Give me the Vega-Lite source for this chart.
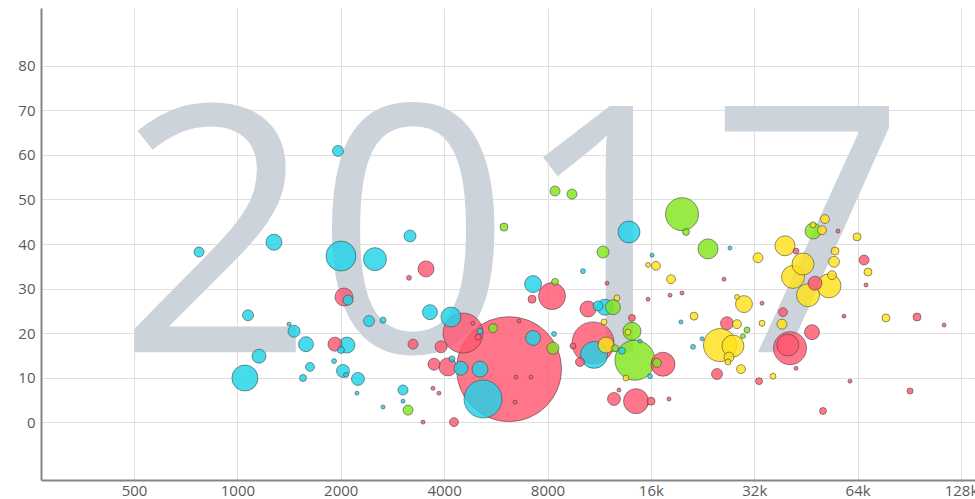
{
  "$schema": "https://vega.github.io/schema/vega-lite/v6.json",
  "width": 934,
  "height": 472,
  "autosize": "none",
  "padding": {"left": 41, "top": 8, "right": 0, "bottom": 19},
  "background": "white",
  "config": {
    "view": {"stroke": null},
    "axis": {
      "domainColor": "#858585",
      "domainWidth": 2,
      "gridColor": "#e0e0e0",
      "gridWidth": 1,
      "ticks": false,
      "labelFont": "Open Sans",
      "labelFontSize": 15,
      "labelColor": "#5a5a5a",
      "title": null
    }
  },
  "datasets": {
    "bubbles": [
      {"c":"africa","x":773,"y":38.2,"pop":12.5},
      {"c":"africa","x":1278,"y":40.4,"pop":32},
      {"c":"africa","x":1074,"y":24.0,"pop":15},
      {"c":"africa","x":1414,"y":22.0,"pop":2},
      {"c":"africa","x":1462,"y":20.4,"pop":18},
      {"c":"africa","x":1584,"y":17.5,"pop":28},
      {"c":"africa","x":1156,"y":14.8,"pop":24.5},
      {"c":"africa","x":1052,"y":9.9,"pop":84.5},
      {"c":"africa","x":1627,"y":12.4,"pop":10},
      {"c":"africa","x":1553,"y":9.9,"pop":6},
      {"c":"africa","x":1963,"y":60.9,"pop":15},
      {"c":"africa","x":2003,"y":37.3,"pop":112.5},
      {"c":"africa","x":2516,"y":36.6,"pop":66},
      {"c":"africa","x":3182,"y":41.8,"pop":18},
      {"c":"africa","x":2100,"y":27.4,"pop":12.5},
      {"c":"africa","x":2417,"y":22.7,"pop":15},
      {"c":"africa","x":2655,"y":22.9,"pop":4.5},
      {"c":"africa","x":3638,"y":24.7,"pop":28},
      {"c":"africa","x":4188,"y":23.6,"pop":50},
      {"c":"africa","x":2085,"y":17.3,"pop":32},
      {"c":"africa","x":2003,"y":16.2,"pop":6},
      {"c":"africa","x":1912,"y":13.7,"pop":3},
      {"c":"africa","x":2030,"y":11.5,"pop":21},
      {"c":"africa","x":2072,"y":10.6,"pop":3},
      {"c":"africa","x":2245,"y":9.7,"pop":21},
      {"c":"africa","x":3036,"y":7.2,"pop":12.5},
      {"c":"africa","x":3036,"y":4.7,"pop":2},
      {"c":"africa","x":4479,"y":12.1,"pop":24.5},
      {"c":"africa","x":5087,"y":11.9,"pop":32},
      {"c":"africa","x":4217,"y":14.2,"pop":4.5},
      {"c":"africa","x":5087,"y":20.4,"pop":4.5},
      {"c":"africa","x":5192,"y":5.2,"pop":180},
      {"c":"africa","x":7261,"y":18.9,"pop":28},
      {"c":"africa","x":8357,"y":19.8,"pop":3},
      {"c":"africa","x":7261,"y":31.0,"pop":36},
      {"c":"africa","x":10150,"y":33.9,"pop":3},
      {"c":"africa","x":13815,"y":42.7,"pop":60.5},
      {"c":"africa","x":11227,"y":26.1,"pop":12.5},
      {"c":"africa","x":11765,"y":25.8,"pop":32},
      {"c":"africa","x":10928,"y":15.1,"pop":91},
      {"c":"africa","x":13185,"y":16.0,"pop":6},
      {"c":"africa","x":15910,"y":10.3,"pop":3},
      {"c":"africa","x":21225,"y":16.9,"pop":3},
      {"c":"africa","x":22548,"y":18.7,"pop":2},
      {"c":"asia","x":3543,"y":34.4,"pop":32},
      {"c":"asia","x":3160,"y":32.4,"pop":3},
      {"c":"asia","x":2044,"y":28.1,"pop":40.5},
      {"c":"asia","x":4540,"y":20.0,"pop":200},
      {"c":"asia","x":1924,"y":17.5,"pop":24.5},
      {"c":"asia","x":3247,"y":17.5,"pop":12.5},
      {"c":"asia","x":3917,"y":16.9,"pop":18},
      {"c":"asia","x":3738,"y":13.0,"pop":18},
      {"c":"asia","x":4104,"y":12.4,"pop":40.5},
      {"c":"asia","x":5021,"y":19.1,"pop":4.5},
      {"c":"asia","x":6182,"y":11.9,"pop":1378},
      {"c":"asia","x":4274,"y":0.0,"pop":10},
      {"c":"asia","x":8247,"y":28.3,"pop":91},
      {"c":"asia","x":7211,"y":27.6,"pop":8},
      {"c":"asia","x":10496,"y":25.4,"pop":32},
      {"c":"asia","x":14096,"y":23.4,"pop":6},
      {"c":"asia","x":10855,"y":17.8,"pop":220},
      {"c":"asia","x":9946,"y":13.5,"pop":10},
      {"c":"asia","x":9493,"y":17.1,"pop":4.5},
      {"c":"asia","x":17355,"y":13.0,"pop":72},
      {"c":"asia","x":12493,"y":5.2,"pop":21},
      {"c":"asia","x":14484,"y":4.7,"pop":78},
      {"c":"asia","x":16015,"y":4.7,"pop":8},
      {"c":"asia","x":24931,"y":10.8,"pop":15},
      {"c":"asia","x":42340,"y":38.4,"pop":4.5},
      {"c":"asia","x":66810,"y":36.4,"pop":12.5},
      {"c":"asia","x":48100,"y":31.2,"pop":24.5},
      {"c":"asia","x":38800,"y":24.7,"pop":10},
      {"c":"asia","x":95300,"y":23.6,"pop":8},
      {"c":"asia","x":26650,"y":22.2,"pop":21},
      {"c":"asia","x":47140,"y":20.2,"pop":28},
      {"c":"asia","x":40670,"y":16.6,"pop":136},
      {"c":"asia","x":40100,"y":17.3,"pop":60.5},
      {"c":"asia","x":33040,"y":9.2,"pop":6},
      {"c":"asia","x":50740,"y":2.5,"pop":6},
      {"c":"asia","x":90950,"y":7.0,"pop":4.5},
      {"c":"europe","x":12747,"y":27.9,"pop":4.5},
      {"c":"europe","x":11687,"y":22.5,"pop":4.5},
      {"c":"europe","x":11845,"y":17.3,"pop":32},
      {"c":"europe","x":13727,"y":20.2,"pop":4.5},
      {"c":"europe","x":13540,"y":9.9,"pop":4.5},
      {"c":"europe","x":15696,"y":35.3,"pop":3},
      {"c":"europe","x":16560,"y":35.1,"pop":10},
      {"c":"europe","x":18315,"y":32.1,"pop":10},
      {"c":"europe","x":21365,"y":23.8,"pop":8},
      {"c":"europe","x":32810,"y":36.9,"pop":12.5},
      {"c":"europe","x":39330,"y":39.6,"pop":50},
      {"c":"europe","x":47450,"y":44.3,"pop":4.5},
      {"c":"europe","x":50400,"y":43.1,"pop":10},
      {"c":"europe","x":51420,"y":45.6,"pop":10},
      {"c":"europe","x":63740,"y":41.6,"pop":8},
      {"c":"europe","x":44370,"y":35.5,"pop":60.5},
      {"c":"europe","x":41500,"y":32.6,"pop":66},
      {"c":"europe","x":55000,"y":38.4,"pop":8},
      {"c":"europe","x":54640,"y":36.0,"pop":15},
      {"c":"europe","x":68600,"y":33.7,"pop":8},
      {"c":"europe","x":52820,"y":30.6,"pop":72},
      {"c":"europe","x":53900,"y":33.0,"pop":10},
      {"c":"europe","x":45890,"y":28.5,"pop":66},
      {"c":"europe","x":29870,"y":26.5,"pop":36},
      {"c":"europe","x":28500,"y":28.1,"pop":3},
      {"c":"europe","x":33710,"y":22.2,"pop":4.5},
      {"c":"europe","x":38540,"y":22.0,"pop":12.5},
      {"c":"europe","x":77400,"y":23.4,"pop":8},
      {"c":"europe","x":28500,"y":22.0,"pop":10},
      {"c":"europe","x":25430,"y":17.3,"pop":136},
      {"c":"europe","x":27740,"y":17.1,"pop":60.5},
      {"c":"europe","x":27010,"y":14.6,"pop":12.5},
      {"c":"europe","x":26830,"y":13.5,"pop":4.5},
      {"c":"europe","x":29280,"y":11.9,"pop":10},
      {"c":"europe","x":36280,"y":10.3,"pop":4.5},
      {"c":"americas","x":5976,"y":43.8,"pop":8},
      {"c":"americas","x":8414,"y":51.9,"pop":12.5},
      {"c":"americas","x":9428,"y":51.2,"pop":12.5},
      {"c":"americas","x":11610,"y":38.2,"pop":18},
      {"c":"americas","x":8414,"y":31.5,"pop":6},
      {"c":"americas","x":5552,"y":21.1,"pop":10},
      {"c":"americas","x":8300,"y":16.6,"pop":18},
      {"c":"americas","x":3140,"y":2.7,"pop":12.5},
      {"c":"americas","x":12410,"y":25.8,"pop":28},
      {"c":"americas","x":14096,"y":20.4,"pop":40.5},
      {"c":"americas","x":14380,"y":13.9,"pop":200},
      {"c":"americas","x":16670,"y":13.3,"pop":10},
      {"c":"americas","x":12580,"y":16.6,"pop":6},
      {"c":"americas","x":19715,"y":46.7,"pop":136},
      {"c":"americas","x":20250,"y":42.7,"pop":6},
      {"c":"americas","x":23470,"y":38.9,"pop":50},
      {"c":"americas","x":47450,"y":42.9,"pop":32},
      {"c":"americas","x":30480,"y":20.7,"pop":4.5},
      {"c":"americas","x":29670,"y":19.3,"pop":3},
      {"c":"asia","x":6607,"y":22.7,"pop":2},
      {"c":"asia","x":6476,"y":10.1,"pop":2},
      {"c":"asia","x":7162,"y":10.1,"pop":2},
      {"c":"asia","x":6435,"y":4.5,"pop":2},
      {"c":"asia","x":4854,"y":22.2,"pop":2},
      {"c":"africa","x":2655,"y":3.4,"pop":2},
      {"c":"africa","x":2230,"y":6.5,"pop":2},
      {"c":"asia","x":3712,"y":7.6,"pop":2},
      {"c":"asia","x":3864,"y":6.5,"pop":2},
      {"c":"asia","x":3472,"y":0.0,"pop":2},
      {"c":"asia","x":11925,"y":31.2,"pop":2},
      {"c":"asia","x":12920,"y":7.2,"pop":2},
      {"c":"asia","x":18065,"y":5.2,"pop":2},
      {"c":"africa","x":16125,"y":37.5,"pop":2},
      {"c":"asia","x":15696,"y":27.6,"pop":2},
      {"c":"asia","x":18190,"y":28.5,"pop":2},
      {"c":"asia","x":19715,"y":29.0,"pop":2},
      {"c":"africa","x":19575,"y":22.5,"pop":2},
      {"c":"africa","x":27190,"y":39.1,"pop":2},
      {"c":"asia","x":26120,"y":32.1,"pop":2},
      {"c":"asia","x":33710,"y":26.7,"pop":2},
      {"c":"asia","x":56100,"y":42.9,"pop":2},
      {"c":"asia","x":67700,"y":30.8,"pop":2},
      {"c":"asia","x":58400,"y":23.8,"pop":2},
      {"c":"asia","x":114250,"y":21.8,"pop":2},
      {"c":"asia","x":42340,"y":12.1,"pop":2},
      {"c":"asia","x":60800,"y":9.2,"pop":2},
      {"c":"africa","x":14870,"y":18.2,"pop":2}
    ],
    "year": [{"label": "2017", "x": 6300, "y": 15.7}]
  },
  "encoding": {
    "x": {
      "field": "x",
      "type": "quantitative",
      "scale": {"type": "log", "base": 2, "domain": [268, 140600], "nice": false},
      "axis": {
        "values": [500, 1000, 2000, 4000, 8000, 16000, 32000, 64000, 128000],
        "labelExpr": "datum.value >= 16000 ? format(datum.value / 1000, 'd') + 'k' : format(datum.value, 'd')",
        "labelPadding": 3,
        "labelFlush": false,
        "labelOverlap": false
      }
    },
    "y": {
      "field": "y",
      "type": "quantitative",
      "scale": {"domain": [-13, 93], "nice": false, "zero": false},
      "axis": {
        "values": [0, 10, 20, 30, 40, 50, 60, 70, 80],
        "labelPadding": 6
      }
    }
  },
  "layer": [
    {
      "data": {"name": "year"},
      "mark": {
        "type": "text",
        "font": "Open Sans",
        "fontSize": 345,
        "fontWeight": 400,
        "color": "#ccd3da",
        "align": "center",
        "baseline": "alphabetic"
      },
      "encoding": {"text": {"field": "label"}}
    },
    {
      "data": {"name": "bubbles"},
      "mark": {
        "type": "circle",
        "fillOpacity": 0.82,
        "stroke": "#3a3a3a",
        "strokeOpacity": 0.55,
        "strokeWidth": 1
      },
      "encoding": {
        "color": {
          "field": "c",
          "type": "nominal",
          "scale": {
            "domain": ["africa", "asia", "europe", "americas"],
            "range": ["#1fd3e8", "#ff5872", "#ffe11a", "#82e51c"]
          },
          "legend": null
        },
        "size": {
          "field": "pop",
          "type": "quantitative",
          "scale": {"type": "linear", "domain": [0, 1000], "range": [0, 8000], "zero": true},
          "legend": null
        },
        "order": {"field": "pop", "type": "quantitative", "sort": "descending"}
      }
    }
  ]
}
